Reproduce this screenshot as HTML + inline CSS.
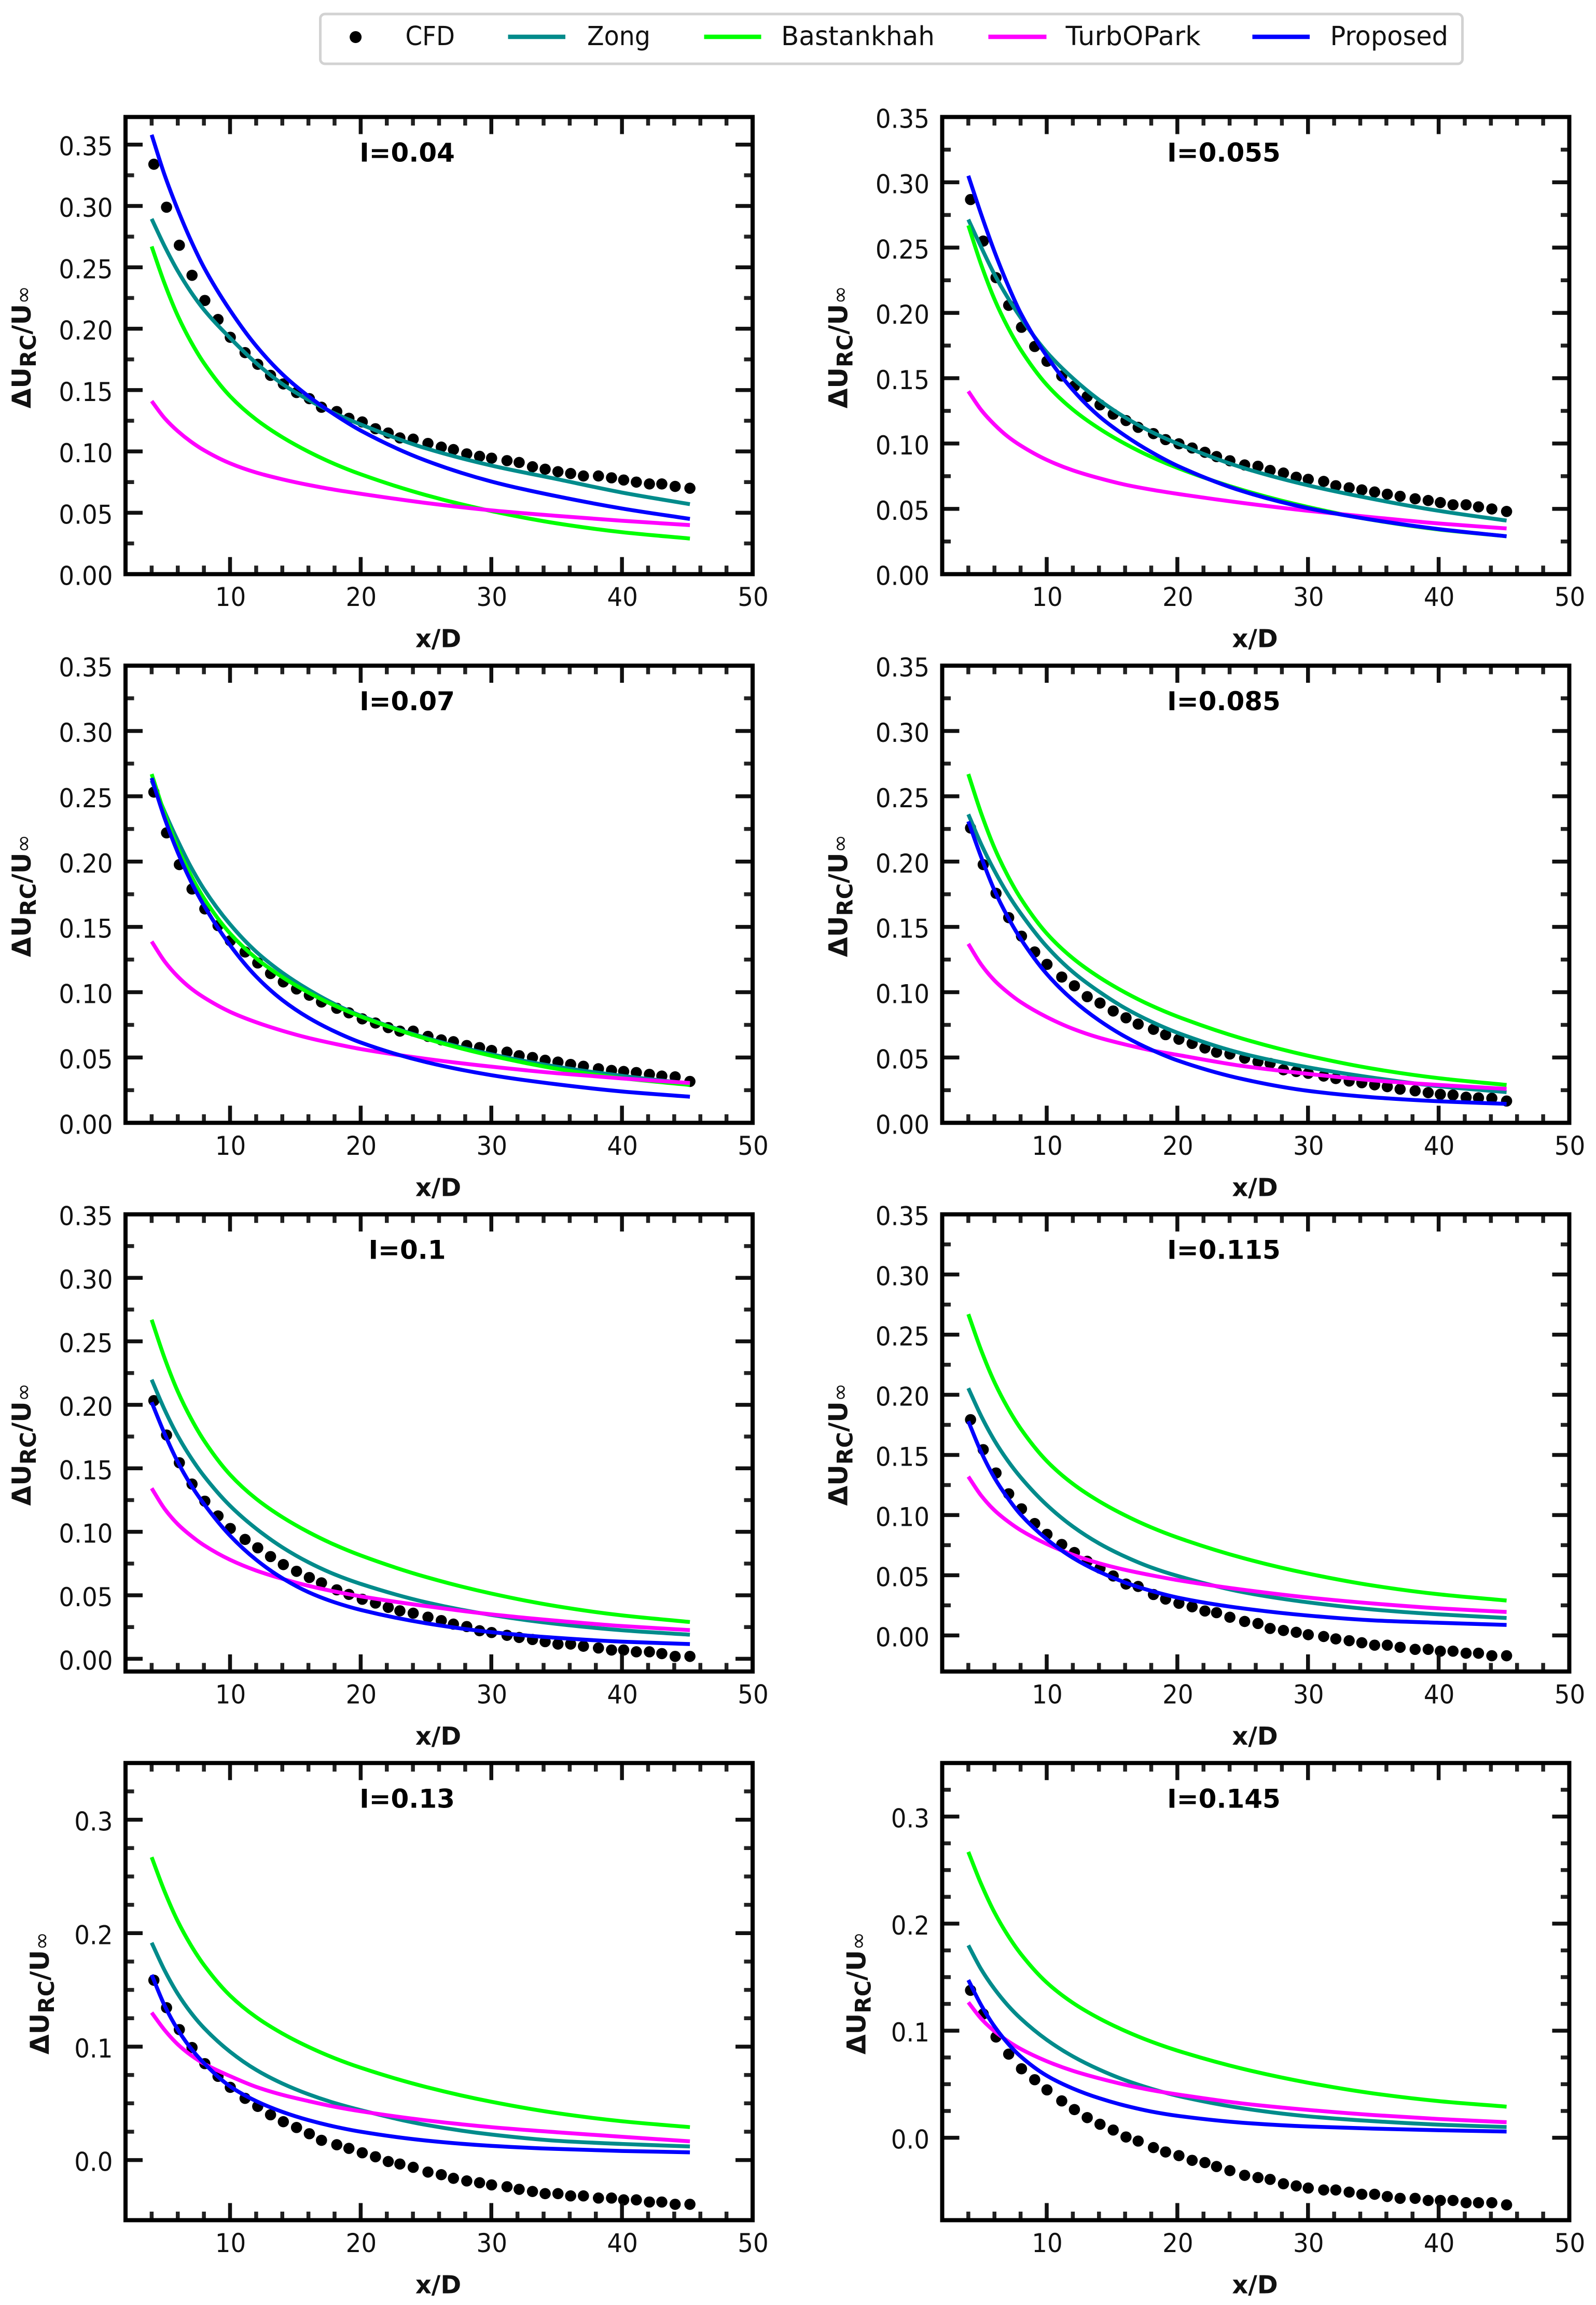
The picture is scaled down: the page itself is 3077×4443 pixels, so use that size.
<!DOCTYPE html>
<html lang="en">
<head>
<meta charset="utf-8">
<title>Wake velocity deficit comparison</title>
<style>
html,body{margin:0;padding:0;background:#fff;}
svg{display:block;}
text{font-family:"DejaVu Sans","Liberation Sans",sans-serif;}
</style>
</head>
<body>
<svg id="figure" xmlns="http://www.w3.org/2000/svg" width="3077" height="4443" viewBox="0 0 3077 4443">
<rect x="0" y="0" width="3077" height="4443" fill="#fff"/>
<g>
<rect x="617.5" y="27" width="2202" height="96" rx="9" ry="9" fill="#fff" stroke="#d2d2d2" stroke-width="5"/>
<circle cx="685.6" cy="71.5" r="11.5" fill="#000"/>
<text x="781.5" y="87" font-size="51" fill="#111" textLength="95.5" lengthAdjust="spacingAndGlyphs">CFD</text>
<line x1="979.5" x2="1090" y1="71" y2="71" stroke="#008b8b" stroke-width="8.5"/>
<text x="1132" y="87" font-size="51" fill="#111" textLength="122" lengthAdjust="spacingAndGlyphs">Zong</text>
<line x1="1357.5" x2="1467.5" y1="71" y2="71" stroke="#00ff00" stroke-width="8.5"/>
<text x="1506" y="87" font-size="51" fill="#111" textLength="296" lengthAdjust="spacingAndGlyphs">Bastankhah</text>
<line x1="1905.5" x2="2017.5" y1="71" y2="71" stroke="#ff00ff" stroke-width="8.5"/>
<text x="2054.7" y="87" font-size="51" fill="#111" textLength="260" lengthAdjust="spacingAndGlyphs">TurbOPark</text>
<line x1="2414.5" x2="2525" y1="71" y2="71" stroke="#0000ff" stroke-width="8.5"/>
<text x="2564.5" y="87" font-size="51" fill="#111" textLength="227.5" lengthAdjust="spacingAndGlyphs">Proposed</text>
</g>
</svg>
<script>
const panelLabels = ['I=0.04','I=0.055','I=0.07','I=0.085','I=0.1','I=0.115','I=0.13','I=0.145'];
const yLower = [0,0,0,0,-0.01,-0.03,-0.053,-0.077];
const yUpper = [0.3725,0.35,0.35,0.35,0.35,0.35,0.35,0.35];
const fineTickValues = [0,0.05,0.1,0.15,0.2,0.25,0.3,0.35];
const fineTickLabels = ['0.00','0.05','0.10','0.15','0.20','0.25','0.30','0.35'];
const coarseTickValues = [0,0.1,0.2,0.3];
const coarseTickLabels = ['0.0','0.1','0.2','0.3'];
const fineMinorValues = [0.025,0.075,0.125,0.175,0.225,0.275,0.325];
const coarseMinorValues = [0.025,0.05,0.075,0.125,0.15,0.175,0.225,0.25,0.275,0.325];
const xTickValues = [10,20,30,40,50];
const xTickLabels = ['10','20','30','40','50'];
const xMinorValues = [4,6,8,12,14,16,18,22,24,26,28,32,34,36,38,42,44,46,48];

const lineX = [4,5,6,7,8,10,12,14,16,18,20,25,30,35,40,45.2];
const cfdX = [4.17,5.14,6.12,7.09,8.07,9.08,10.02,11.15,12.12,13.1,14.08,15.09,16.07,17.0,18.17,19.1,20.12,21.13,22.11,23.0,24.02,25.15,26.17,27.1,28.12,29.1,30.02,31.2,32.13,33.15,34.12,35.1,36.07,37.05,38.2,39.2,40.13,41.1,42.1,43.05,44.07,45.2];

const bastankhah = [0.267,0.2365,0.2105,0.1895,0.172,0.145,0.126,0.1116,0.0998,0.0898,0.0814,0.0644,0.0514,0.0414,0.0342,0.029];

const zongA = [0.2895,0.267,0.247,0.23,0.2155,0.1925,0.172,0.155,0.142,0.131,0.122,0.1025,0.0885,0.0775,0.0665,0.057];
const zongB = [0.2715,0.25,0.2295,0.212,0.1965,0.17,0.15,0.1335,0.12,0.109,0.1,0.0815,0.068,0.0575,0.0485,0.041];
const zongC = [0.262,0.238,0.216,0.196,0.179,0.152,0.131,0.115,0.102,0.091,0.082,0.065,0.0525,0.043,0.036,0.03];
const zongD = [0.2362,0.213,0.193,0.1755,0.1605,0.135,0.1155,0.1005,0.0878,0.0775,0.069,0.053,0.0425,0.0345,0.028,0.0235];
const zongE = [0.2198,0.196,0.1755,0.1585,0.144,0.1205,0.1025,0.0878,0.076,0.0665,0.059,0.0445,0.0345,0.0275,0.0225,0.019];
const zongF = [0.2055,0.182,0.162,0.1455,0.1315,0.1085,0.0905,0.0765,0.0655,0.0565,0.0495,0.036,0.0275,0.0215,0.0175,0.0145];
const zongG = [0.1916,0.167,0.1465,0.13,0.1165,0.0955,0.0795,0.0675,0.058,0.0503,0.044,0.031,0.0225,0.017,0.0142,0.012];
const zongH = [0.1797,0.157,0.139,0.124,0.1115,0.0915,0.076,0.0638,0.0538,0.0458,0.0392,0.0275,0.02,0.0155,0.0122,0.01];

const turboA = [0.141,0.127,0.1165,0.108,0.101,0.0903,0.0828,0.0773,0.0727,0.0688,0.0655,0.058,0.052,0.0475,0.0435,0.04];
const turboB = [0.14,0.1255,0.1145,0.1055,0.0985,0.0875,0.0795,0.0735,0.0685,0.0647,0.0615,0.0545,0.0485,0.0435,0.0388,0.035];
const turboC = [0.1388,0.1235,0.112,0.103,0.096,0.085,0.077,0.0705,0.065,0.0605,0.0565,0.049,0.043,0.038,0.034,0.0305];
const turboD = [0.137,0.121,0.109,0.1,0.0925,0.081,0.072,0.0652,0.06,0.0555,0.052,0.0435,0.0375,0.0325,0.029,0.026];
const turboE = [0.1343,0.118,0.106,0.097,0.0895,0.078,0.0695,0.063,0.0575,0.053,0.0492,0.0415,0.035,0.03,0.0258,0.0226];
const turboF = [0.132,0.116,0.104,0.095,0.0875,0.076,0.067,0.06,0.0545,0.05,0.046,0.038,0.0315,0.0265,0.0225,0.0195];
const turboG = [0.13,0.1145,0.102,0.0925,0.085,0.074,0.0645,0.0575,0.052,0.047,0.043,0.035,0.029,0.0245,0.0205,0.0165];
const turboH = [0.1265,0.111,0.0995,0.0905,0.083,0.0715,0.0625,0.0555,0.0495,0.0445,0.0405,0.032,0.026,0.0212,0.0175,0.0145];

const proposedA = [0.358,0.325,0.297,0.272,0.25,0.215,0.186,0.163,0.145,0.13,0.117,0.0925,0.0755,0.0635,0.0535,0.045];
const proposedB = [0.305,0.275,0.247,0.222,0.2,0.167,0.141,0.121,0.106,0.0935,0.083,0.0635,0.0505,0.0415,0.0345,0.029];
const proposedC = [0.264,0.233,0.207,0.185,0.1665,0.136,0.112,0.094,0.0805,0.07,0.0615,0.0465,0.0365,0.0295,0.024,0.02];
const proposedD = [0.2308,0.203,0.178,0.158,0.141,0.114,0.094,0.0785,0.066,0.056,0.0478,0.0335,0.0245,0.0195,0.0165,0.0145];
const proposedE = [0.202,0.177,0.155,0.137,0.122,0.097,0.078,0.0635,0.0525,0.0445,0.0385,0.028,0.021,0.0165,0.0135,0.0116];
const proposedF = [0.178,0.152,0.131,0.1145,0.1005,0.08,0.0645,0.053,0.044,0.037,0.0315,0.0225,0.0165,0.0125,0.0105,0.0087];
const proposedG = [0.1633,0.136,0.115,0.0985,0.0855,0.065,0.052,0.0425,0.0352,0.0295,0.025,0.0172,0.0125,0.0098,0.008,0.0068];
const proposedH = [0.1473,0.1235,0.104,0.0885,0.076,0.058,0.046,0.037,0.03,0.0245,0.0205,0.014,0.0105,0.0085,0.007,0.0058];

const cfdA = [0.334,0.299,0.268,0.2435,0.223,0.2075,0.193,0.1805,0.171,0.162,0.155,0.148,0.143,0.136,0.1325,0.127,0.124,0.1185,0.115,0.111,0.11,0.1065,0.1035,0.1015,0.098,0.096,0.0945,0.0925,0.091,0.0875,0.0855,0.0835,0.082,0.08,0.08,0.0785,0.0767,0.075,0.0735,0.0735,0.0715,0.07];
const cfdB = [0.2868,0.255,0.227,0.2058,0.189,0.1743,0.163,0.1517,0.144,0.136,0.1296,0.1225,0.1176,0.1124,0.1076,0.103,0.0998,0.0966,0.0933,0.09,0.0868,0.0836,0.0826,0.0794,0.0774,0.0742,0.0726,0.071,0.0677,0.0661,0.0645,0.0629,0.0612,0.0596,0.0577,0.0564,0.0548,0.0531,0.0531,0.0515,0.0499,0.048];
const cfdC = [0.2532,0.222,0.1977,0.179,0.1638,0.151,0.1394,0.1308,0.1224,0.1143,0.1079,0.1025,0.0977,0.0925,0.0877,0.0842,0.0796,0.0764,0.0729,0.0702,0.0702,0.0662,0.0635,0.0621,0.0592,0.0576,0.0554,0.0541,0.0514,0.05,0.0479,0.0465,0.0447,0.0433,0.0414,0.0401,0.0393,0.0385,0.0371,0.0358,0.0352,0.0317];
const cfdD = [0.2257,0.1977,0.1757,0.1571,0.1429,0.1308,0.1213,0.1116,0.1049,0.0966,0.0917,0.0856,0.0804,0.0756,0.0716,0.0675,0.064,0.0608,0.0573,0.0541,0.0527,0.0495,0.0468,0.0455,0.0406,0.0393,0.0379,0.0358,0.0339,0.032,0.0307,0.0291,0.0277,0.0258,0.0245,0.0231,0.0218,0.0213,0.0196,0.0191,0.0188,0.0167];
const cfdE = [0.2033,0.1762,0.1544,0.1376,0.1241,0.1125,0.1026,0.094,0.0874,0.0805,0.0742,0.0689,0.064,0.0598,0.0543,0.0507,0.0469,0.0439,0.0405,0.0378,0.0359,0.0328,0.0301,0.0273,0.0254,0.0221,0.0207,0.0185,0.0168,0.0152,0.0135,0.0116,0.0116,0.0099,0.0085,0.0069,0.0069,0.0055,0.0055,0.0041,0.0019,0.0019];
const cfdF = [0.1793,0.1544,0.135,0.1177,0.1052,0.093,0.084,0.0756,0.0689,0.0616,0.0558,0.0494,0.0427,0.0407,0.034,0.0302,0.0267,0.0238,0.0203,0.0189,0.0151,0.0116,0.0099,0.0058,0.0041,0.0026,0.0006,-0.0009,-0.0029,-0.0044,-0.0061,-0.0081,-0.0081,-0.0099,-0.0116,-0.0116,-0.0131,-0.0131,-0.0148,-0.0148,-0.0169,-0.0169];
const cfdG = [0.1585,0.1343,0.115,0.0992,0.085,0.0738,0.0641,0.0544,0.0473,0.0399,0.0338,0.0287,0.0232,0.0174,0.0135,0.0103,0.0064,0.0029,-0.0013,-0.0035,-0.0064,-0.0106,-0.0129,-0.0161,-0.0184,-0.02,-0.0219,-0.0235,-0.0258,-0.0277,-0.0296,-0.0296,-0.0316,-0.0316,-0.0335,-0.0335,-0.0351,-0.0351,-0.037,-0.037,-0.039,-0.039];
const cfdH = [0.1377,0.1156,0.0941,0.0781,0.0644,0.0542,0.0447,0.0344,0.0263,0.0188,0.0126,0.0072,0.0007,-0.0031,-0.0092,-0.0133,-0.0167,-0.0211,-0.0232,-0.0269,-0.0307,-0.0351,-0.0372,-0.0389,-0.043,-0.045,-0.047,-0.0488,-0.0488,-0.0508,-0.0528,-0.0528,-0.0549,-0.0566,-0.0566,-0.0586,-0.0586,-0.0586,-0.0607,-0.0607,-0.0607,-0.0627];

const zongSeries = [zongA,zongB,zongC,zongD,zongE,zongF,zongG,zongH];
const turboSeries = [turboA,turboB,turboC,turboD,turboE,turboF,turboG,turboH];
const proposedSeries = [proposedA,proposedB,proposedC,proposedD,proposedE,proposedF,proposedG,proposedH];
const cfdSeries = [cfdA,cfdB,cfdC,cfdD,cfdE,cfdF,cfdG,cfdH];

const SVG_NS = 'http://www.w3.org/2000/svg';
const figure = document.getElementById('figure');
const colLeft = [242, 1816.5];
const rowTop = [225.5, 1283.1, 2340.7, 3398.3];
const AXIS_W = 1209;
const AXIS_H = 881.2;
const X_MIN = 2;
const X_MAX = 50;

function make(tag, attrs, parent) {
  const node = document.createElementNS(SVG_NS, tag);
  for (const key in attrs) node.setAttribute(key, attrs[key]);
  parent.appendChild(node);
  return node;
}

function monotonePath(xs, ys) {
  const n = xs.length;
  const d = [];
  for (let i = 0; i < n - 1; i++) d.push((ys[i + 1] - ys[i]) / (xs[i + 1] - xs[i]));
  const m = [d[0]];
  for (let i = 1; i < n - 1; i++) {
    if (d[i - 1] * d[i] <= 0) { m.push(0); continue; }
    const h0 = xs[i] - xs[i - 1], h1 = xs[i + 1] - xs[i];
    const w0 = 2 * h1 + h0, w1 = h1 + 2 * h0;
    m.push((w0 + w1) / (w0 / d[i - 1] + w1 / d[i]));
  }
  m.push(d[n - 2]);
  let path = 'M' + xs[0].toFixed(2) + ' ' + ys[0].toFixed(2);
  for (let i = 0; i < n - 1; i++) {
    const h = (xs[i + 1] - xs[i]) / 3;
    path += 'C' + (xs[i] + h).toFixed(2) + ' ' + (ys[i] + m[i] * h).toFixed(2) + ' ' +
      (xs[i + 1] - h).toFixed(2) + ' ' + (ys[i + 1] - m[i + 1] * h).toFixed(2) + ' ' +
      xs[i + 1].toFixed(2) + ' ' + ys[i + 1].toFixed(2);
  }
  return path;
}

function squeezedLength(label, fontSize) {
  let em = 0;
  for (const ch of label) em += ch === '.' ? 0.318 : 0.636;
  return (em * fontSize * 0.935).toFixed(1);
}

function drawPanel(p) {
  const col = p % 2;
  const row = Math.floor(p / 2);
  const left = colLeft[col];
  const top = rowTop[row];
  const right = left + AXIS_W;
  const bottom = top + AXIS_H;
  const yLo = yLower[p];
  const yHi = yUpper[p];
  const sx = v => left + (v - X_MIN) / (X_MAX - X_MIN) * AXIS_W;
  const sy = v => bottom - (v - yLo) / (yHi - yLo) * AXIS_H;
  const coarse = p >= 6;
  const yTicks = coarse ? coarseTickValues : fineTickValues;
  const yLabels = coarse ? coarseTickLabels : fineTickLabels;
  const yMinor = coarse ? coarseMinorValues : fineMinorValues;
  const panelId = panelLabels[p].replace('I=', 'i-').replace('.', '-');

  const g = make('g', {}, figure);
  
  

  const dots = make('g', { fill: '#000' }, g);
  
  
  cfdSeries[p].forEach((v, i) => {
    const dot = make('circle', { cx: sx(cfdX[i]).toFixed(2), cy: sy(v).toFixed(2), r: 10.8 }, dots);
    
    
  });

  const lineXs = lineX.map(sx);
  const zongLine = make('path', { d: monotonePath(lineXs, zongSeries[p].map(sy)), fill: 'none', stroke: '#008b8b', 'stroke-width': 7.5 }, g);
  
  
  const bastankhahLine = make('path', { d: monotonePath(lineXs, bastankhah.map(sy)), fill: 'none', stroke: '#00ff00', 'stroke-width': 7.5 }, g);
  
  
  const turboLine = make('path', { d: monotonePath(lineXs, turboSeries[p].map(sy)), fill: 'none', stroke: '#ff00ff', 'stroke-width': 7.5 }, g);
  
  
  const proposedLine = make('path', { d: monotonePath(lineXs, proposedSeries[p].map(sy)), fill: 'none', stroke: '#0000ff', 'stroke-width': 7.5 }, g);
  
  

  xTickValues.forEach((v, i) => {
    const x = sx(v);
    const bt = make('line', { x1: x, x2: x, y1: bottom, y2: bottom - 33, stroke: '#111', 'stroke-width': 7.5 }, g);
    
    
    const tt = make('line', { x1: x, x2: x, y1: top, y2: top + 33, stroke: '#111', 'stroke-width': 7.5 }, g);
    
    
    const lab = make('text', { x: x + 1, y: bottom + 61.5, 'font-size': 50, fill: '#111', 'text-anchor': 'middle', textLength: squeezedLength(xTickLabels[i], 50), lengthAdjust: 'spacingAndGlyphs' }, g);
    lab.textContent = xTickLabels[i];
    
    
  });
  xMinorValues.forEach(v => {
    const x = sx(v);
    const bt = make('line', { x1: x, x2: x, y1: bottom, y2: bottom - 16.5, stroke: '#222', 'stroke-width': 7.5 }, g);
    
    
    const tt = make('line', { x1: x, x2: x, y1: top, y2: top + 16.5, stroke: '#222', 'stroke-width': 7.5 }, g);
    
    
  });

  yTicks.forEach((v, i) => {
    const y = sy(v);
    const lt = make('line', { x1: left, x2: left + 33, y1: y, y2: y, stroke: '#111', 'stroke-width': 7.5 }, g);
    
    
    const rt = make('line', { x1: right, x2: right - 33, y1: y, y2: y, stroke: '#111', 'stroke-width': 7.5 }, g);
    
    
    const lab = make('text', { x: left - 24.5, y: y + 21, 'font-size': 50, fill: '#111', 'text-anchor': 'end', textLength: squeezedLength(yLabels[i], 50), lengthAdjust: 'spacingAndGlyphs' }, g);
    lab.textContent = yLabels[i];
    
    
  });
  yMinor.forEach(v => {
    const y = sy(v);
    const lt = make('line', { x1: left, x2: left + 16.5, y1: y, y2: y, stroke: '#222', 'stroke-width': 7.5 }, g);
    
    
    const rt = make('line', { x1: right, x2: right - 16.5, y1: y, y2: y, stroke: '#222', 'stroke-width': 7.5 }, g);
    
    
  });

  const frame = make('rect', { x: left, y: top, width: AXIS_W, height: AXIS_H, fill: 'none', stroke: '#000', 'stroke-width': 8 }, g);
  
  

  const title = make('text', { x: left + 543, y: top + 86, 'font-size': 50, 'font-weight': 'bold', fill: '#000', 'text-anchor': 'middle' }, g);
  title.textContent = panelLabels[p];
  
  

  const xTitle = make('text', { x: left + 603, y: bottom + 141, 'font-size': 48, 'font-weight': 'bold', fill: '#111', 'text-anchor': 'middle' }, g);
  xTitle.textContent = 'x/D';
  
  

  const yTitleX = left - (coarse ? 148 : 183);
  const yTitleY = top + AXIS_H / 2 + 3;
  const yTitle = make('text', { x: yTitleX, y: yTitleY, 'font-size': 50, 'font-weight': 'bold', fill: '#111', 'text-anchor': 'middle', transform: 'rotate(-90 ' + yTitleX + ' ' + yTitleY + ')' }, g);
  
  
  const a = make('tspan', {}, yTitle);
  a.textContent = '\u0394U';
  const b = make('tspan', { 'font-size': 42, dy: 10 }, yTitle);
  b.textContent = 'RC';
  const c = make('tspan', { dy: -10 }, yTitle);
  c.textContent = '/U';
  const d = make('tspan', { 'font-size': 42, 'font-weight': 'normal', dy: 0 }, yTitle);
  d.textContent = '\u221e';
}

panelLabels.forEach((label, p) => drawPanel(p));
</script>
</body>
</html>
